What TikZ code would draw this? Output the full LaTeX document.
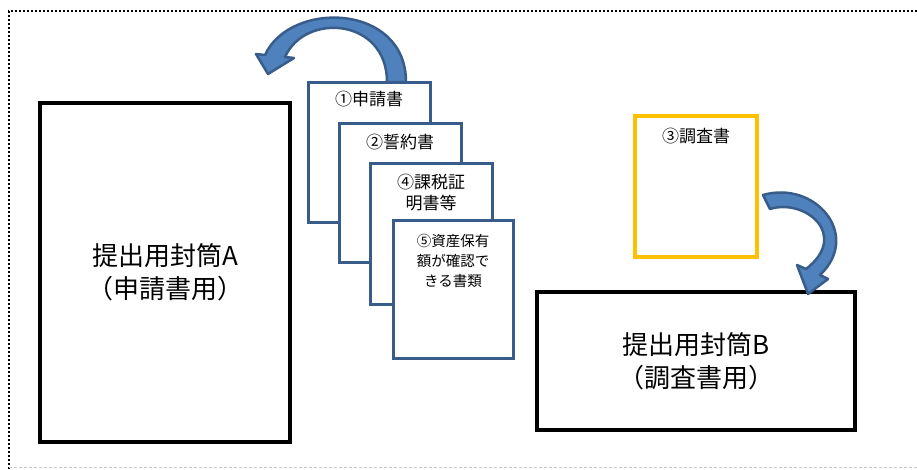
\documentclass[tikz,border=0pt]{standalone}
\usepackage{fontspec}
\newfontfamily\jpfont{Noto Sans CJK JP}
\usetikzlibrary{positioning}
\definecolor{docblue}{RGB}{56,93,138}
\definecolor{arrowblue}{RGB}{79,129,189}
\definecolor{surveyyellow}{RGB}{255,192,0}

\begin{document}
\begin{tikzpicture}[x=1pt, y=-1pt, font=\jpfont,
  envelope/.style={draw, line width=4.5pt, rectangle, align=center, inner sep=0pt, font=\jpfont\fontsize{26}{33}\selectfont},
  paper/.style={draw=docblue, fill=white, line width=3pt, rectangle, inner sep=0pt},
  papertext/.style={align=center, inner sep=0pt, font=\jpfont\fontsize{17}{21}\selectfont},
  bentarrow/.style={fill=arrowblue, draw=docblue, line width=2.5pt, line join=round}]
  \useasboundingbox (0,0) rectangle (917,469);
  \draw [line width=2pt, dash pattern=on 2pt off 2pt] (917,11) -- (9,11) -- (9,469);
  \draw [gray!45, line width=1pt, dash pattern=on 3pt off 2pt] (9,467) -- (917,467);

  \node [envelope, minimum width=250, minimum height=339] (envA) at (165,272.5) {提出用封筒A\\（申請書用）};
  \node [envelope, minimum width=318, minimum height=138] (envB) at (696,361) {提出用封筒B\\（調査書用）};

  \filldraw [bentarrow] (406,82) .. controls (406,3) and (290,0) .. (265,55) -- (256,54) -- (268,74) -- (294,58) -- (285,57)
    .. controls (305,12) and (387,18) .. (387,82) -- cycle;

  \node [paper, minimum width=122, minimum height=140] (doc1) at (369,152) {};
  \node [papertext, below=10pt of doc1.north] (doc1text) {①申請書};
  \node [paper, minimum width=122, minimum height=139] (doc2) at (400,192.5) {};
  \node [papertext, below=12pt of doc2.north] (doc2text) {②誓約書};
  \node [paper, minimum width=122, minimum height=141] (doc4) at (431,233.5) {};
  \node [papertext, below=12pt of doc4.north] (doc4text) {④課税証\\明書等};
  \node [paper, minimum width=120, minimum height=138] (doc5) at (453,289) {};
  \node [papertext, font=\jpfont\fontsize{14.5}{20}\selectfont, below=15.5pt of doc5.north] (doc5text) {⑤資産保有\\額が確認で\\きる書類};

  \node [paper, draw=surveyyellow, line width=3.5pt, minimum width=122, minimum height=141] (doc3) at (696,186.5) {};
  \node [papertext, below=13.5pt of doc3.north] (doc3text) {③調査書};

  \filldraw [bentarrow] (763,195) .. controls (815,180) and (862,235) .. (820,275) -- (828,279) -- (808,294) -- (797,265) -- (806,269)
    .. controls (850,235) and (805,198) .. (770,209) -- cycle;
\end{tikzpicture}
\end{document}
